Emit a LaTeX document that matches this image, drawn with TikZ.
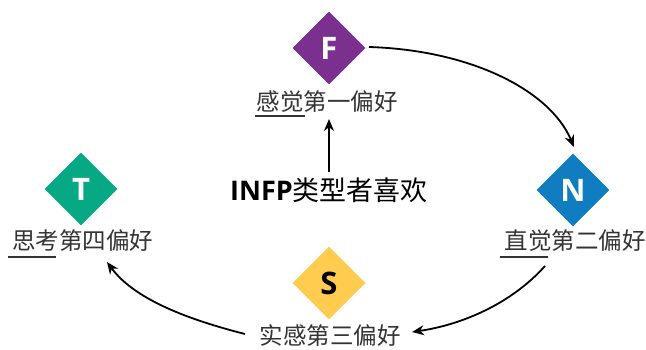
\documentclass[tikz,border=0pt]{standalone}
\usepackage{fontspec}
\setmainfont{Open Sans}
\newfontfamily\cjk{Noto Sans CJK SC}
\usetikzlibrary{shapes.geometric,arrows.meta}
\definecolor{cF}{HTML}{7B2F8F}
\definecolor{cN}{HTML}{0F7DC0}
\definecolor{cT}{HTML}{07A884}
\definecolor{cS}{HTML}{FFCC50}
\definecolor{txt}{HTML}{333333}
\tikzset{
  dia/.style={diamond,aspect=1,minimum width=73pt,minimum height=73pt,inner sep=0pt,
    font=\fontsize{31}{31}\selectfont\bfseries},
  lbl/.style={inner sep=0pt,text=txt,font=\cjk\fontsize{23.5}{24}\selectfont},
  conn/.style={line width=1.8pt,-{Stealth[length=12pt,width=10pt]}},
  ul/.style={line width=1.5pt,txt}
}
\begin{document}
\begin{tikzpicture}[x=1pt,y=-1pt]
\useasboundingbox[fill=white] (0,0) rectangle (646,349);
\node[dia,fill=cF,text=white] (F) at (329,48) {F};
\node[dia,fill=cN,text=white] (N) at (573,190) {N};
\node[dia,fill=cT,text=white] (T) at (81,189) {T};
\node[dia,fill=cS,text=black] (S) at (329,283) {S};
\node[lbl] (lF) at (327,102) {感觉第一偏好};
\node[lbl] (lN) at (575,241) {直觉第二偏好};
\node[lbl] (lT) at (83,241) {思考第四偏好};
\node[lbl] (lS) at (330,335) {实感第三偏好};
\node[inner sep=0pt,text=black,font=\fontsize{27}{28}\selectfont] (I) at (329,190) {\textbf{INFP}{\cjk 类型者喜欢}};
\coordinate (uF1) at (255,116); \coordinate (uF2) at (305,116);
\coordinate (uN1) at (500,257); \coordinate (uN2) at (548,257);
\coordinate (uT1) at (8,257); \coordinate (uT2) at (56,257);
\draw[ul] (uF1) -- (uF2);
\draw[ul] (uN1) -- (uN2);
\draw[ul] (uT1) -- (uT2);
\coordinate (aF) at (369,47);
\coordinate (aN) at (574,147);
\coordinate (bN) at (545,266);
\coordinate (bS) at (412,332);
\coordinate (cS) at (245,334);
\coordinate (cT) at (107,262);
\coordinate (iT) at (329,172);
\coordinate (iF) at (329,119);
\draw[conn] (aF) .. controls (470,50) and (550,90) .. (aN);
\draw[conn] (bN) .. controls (510,305) and (460,325) .. (bS);
\draw[conn] (cS) .. controls (190,320) and (135,300) .. (cT);
\draw[conn] (iT) -- (iF);
\end{tikzpicture}
\end{document}
